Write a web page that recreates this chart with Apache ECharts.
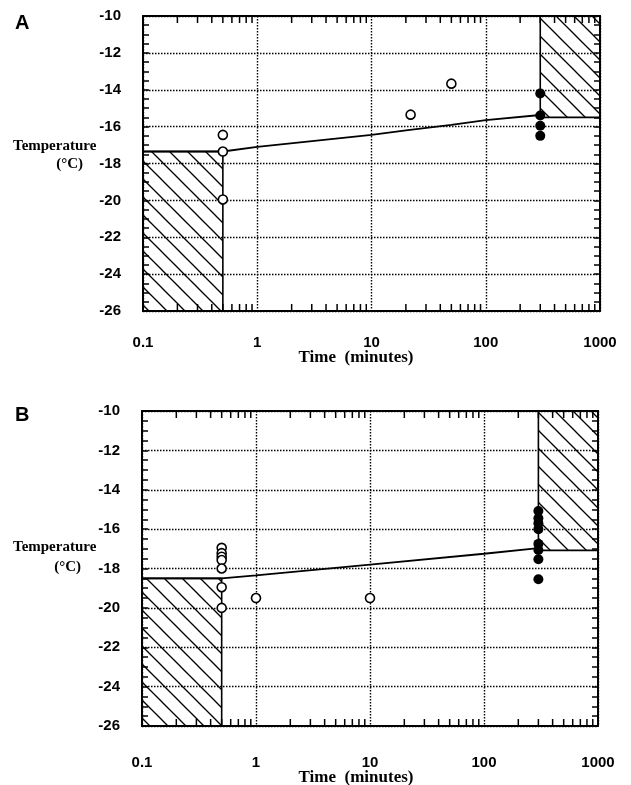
<!DOCTYPE html>
<html>
<head>
<meta charset="utf-8">
<script src="https://cdn.jsdelivr.net/npm/echarts@6/dist/echarts.min.js"></script>
<style>
html,body{margin:0;padding:0;background:#fff}
#chart{width:631px;height:785px}
</style>
</head>
<body>
<div id="chart"></div>
<script>
// panel A
var lineA = [[0.1,-17.35],[0.5,-17.35],[1,-17.1],[10,-16.45],[20,-16.2],[50,-15.9],[100,-15.65],[300,-15.37]];
var openA = [[0.5,-16.45],[0.5,-17.35],[0.5,-19.95],[22,-15.35],[50,-13.67]];
var filledA = [[300,-14.2],[300,-15.4],[300,-15.95],[300,-16.5]];
var hatchA = [[0.1,0.5,-26,-17.35],[300,1000,-15.5,-10]];

// panel B
var lineB = [[0.1,-18.5],[0.5,-18.5],[1,-18.35],[10,-17.8],[100,-17.25],[300,-16.97]];
var openB = [[0.5,-16.95],[0.5,-17.22],[0.5,-17.4],[0.5,-17.57],[0.5,-18.0],[0.5,-18.95],[0.5,-20],[1,-19.5],[10,-19.5]];
var filledB = [[300,-15.08],[300,-15.45],[300,-15.7],[300,-16.0],[300,-16.75],[300,-17.06],[300,-17.53],[300,-18.55]];
var hatchB = [[0.1,0.5,-26,-18.5],[300,1000,-17.08,-10]];

// log minor ticks on time axis
var xMinorTicks = [0.2,0.3,0.4,0.5,0.6,0.7,0.8,0.9,2,3,4,5,6,7,8,9,
  20,30,40,50,60,70,80,90,200,300,400,500,600,700,800,900];

var sans = '"Liberation Sans", Arial, sans-serif';
var serif = '"Liberation Serif", "Times New Roman", serif';

function makeHatch() {
  var c = document.createElement('canvas');
  c.width = 18; c.height = 18;
  var g = c.getContext('2d');
  g.strokeStyle = '#000';
  g.lineWidth = 1.3;
  [-18, 0, 18].forEach(function (o) {
    g.beginPath();
    g.moveTo(-2 + o, -2);
    g.lineTo(20 + o, 20);
    g.stroke();
  });
  return c;
}
var hatchPattern = {image: makeHatch(), repeat: 'repeat'};

var gridDots = {color: '#000', type: [1.5, 1.5], width: 1.4};

function xAxes(gi, margin) {
  return [{
    type: 'log', logBase: 10, min: 0.1, max: 1000, gridIndex: gi,
    axisLine: {lineStyle: {color: '#000', width: 2}},
    axisTick: {show: false},
    axisLabel: {margin: margin, color: '#000', fontSize: 15, fontWeight: 'bold', fontFamily: sans,
      formatter: function (v) { return String(v); }},
    splitLine: {show: true, lineStyle: gridDots}
  }, {
    type: 'log', logBase: 10, min: 0.1, max: 1000, gridIndex: gi, position: 'top',
    axisLine: {lineStyle: {color: '#000', width: 2}},
    axisTick: {show: false}, axisLabel: {show: false}, splitLine: {show: false}
  }];
}

function yAxes(gi) {
  var tick = {inside: true, length: 6, lineStyle: {color: '#000', width: 1.5}};
  var minor = {show: true, splitNumber: 4, length: 6, lineStyle: {color: '#000', width: 1.5}};
  return [{
    type: 'value', min: -26, max: -10, interval: 2, gridIndex: gi,
    axisLine: {lineStyle: {color: '#000', width: 2}},
    axisTick: tick, minorTick: minor,
    axisLabel: {margin: 22, color: '#000', fontSize: 15, fontWeight: 'bold', fontFamily: sans},
    splitLine: {show: true, lineStyle: gridDots}
  }, {
    type: 'value', min: -26, max: -10, interval: 2, gridIndex: gi, position: 'right',
    axisLine: {lineStyle: {color: '#000', width: 2}},
    axisTick: tick, minorTick: minor,
    axisLabel: {show: false}, splitLine: {show: false}
  }];
}

function panelSeries(xi, yi, line, open, filled, hatch) {
  return [{
    type: 'custom', xAxisIndex: xi, yAxisIndex: yi, z: 2,
    data: hatch, encode: {x: [0, 1], y: [2, 3]},
    renderItem: function (params, api) {
      var p0 = api.coord([api.value(0), api.value(3)]);
      var p1 = api.coord([api.value(1), api.value(2)]);
      return {
        type: 'rect',
        shape: {x: p0[0], y: p0[1], width: p1[0] - p0[0], height: p1[1] - p0[1]},
        style: {fill: hatchPattern, stroke: '#000', lineWidth: 1.6}
      };
    }
  }, {
    type: 'custom', xAxisIndex: xi, yAxisIndex: yi, z: 3, silent: true,
    data: xMinorTicks.map(function (v) { return [v, -26]; }),
    renderItem: function (params, api) {
      var b = api.coord([api.value(0), -26]);
      var t = api.coord([api.value(0), -10]);
      return {type: 'group', children: [
        {type: 'line', shape: {x1: b[0], y1: b[1], x2: b[0], y2: b[1] - 7}, style: {stroke: '#000', lineWidth: 1.5}},
        {type: 'line', shape: {x1: t[0], y1: t[1], x2: t[0], y2: t[1] + 7}, style: {stroke: '#000', lineWidth: 1.5}}
      ]};
    }
  }, {
    type: 'line', xAxisIndex: xi, yAxisIndex: yi, z: 4, data: line,
    showSymbol: false, lineStyle: {color: '#000', width: 1.8}
  }, {
    type: 'scatter', xAxisIndex: xi, yAxisIndex: yi, z: 5, data: open,
    symbol: 'circle', symbolSize: 9,
    itemStyle: {color: '#fff', borderColor: '#000', borderWidth: 1.6, opacity: 1}
  }, {
    type: 'scatter', xAxisIndex: xi, yAxisIndex: yi, z: 5, data: filled,
    symbol: 'circle', symbolSize: 10,
    itemStyle: {color: '#000', opacity: 1}
  }];
}

var chart = echarts.init(document.getElementById('chart'), null, {renderer: 'canvas'});
chart.setOption({
  animation: false,
  backgroundColor: '#fff',
  grid: [
    {left: 143, top: 16, width: 457, height: 295},
    {left: 142, top: 411, width: 456, height: 315}
  ],
  xAxis: xAxes(0, 24).concat(xAxes(1, 29)),
  yAxis: yAxes(0).concat(yAxes(1)),
  series: panelSeries(0, 0, lineA, openA, filledA, hatchA)
    .concat(panelSeries(2, 2, lineB, openB, filledB, hatchB)),
  graphic: [
    {type: 'text', x: 15, y: 23, style: {text: 'A', font: 'bold 20px ' + sans, fill: '#000', verticalAlign: 'middle'}},
    {type: 'text', x: 15, y: 415, style: {text: 'B', font: 'bold 20px ' + sans, fill: '#000', verticalAlign: 'middle'}},
    {type: 'text', x: 13, y: 146, style: {text: 'Temperature', font: 'bold 15px ' + serif, fill: '#000', verticalAlign: 'middle'}},
    {type: 'text', x: 83, y: 164, style: {text: '(°C)', font: 'bold 15px ' + serif, fill: '#000', align: 'right', verticalAlign: 'middle'}},
    {type: 'text', x: 13, y: 547, style: {text: 'Temperature', font: 'bold 15px ' + serif, fill: '#000', verticalAlign: 'middle'}},
    {type: 'text', x: 81, y: 567, style: {text: '(°C)', font: 'bold 15px ' + serif, fill: '#000', align: 'right', verticalAlign: 'middle'}},
    {type: 'text', x: 356, y: 358, style: {text: 'Time  (minutes)', font: 'bold 17px ' + serif, fill: '#000', align: 'center', verticalAlign: 'middle'}},
    {type: 'text', x: 356, y: 778, style: {text: 'Time  (minutes)', font: 'bold 17px ' + serif, fill: '#000', align: 'center', verticalAlign: 'middle'}}
  ]
});
</script>
</body>
</html>
